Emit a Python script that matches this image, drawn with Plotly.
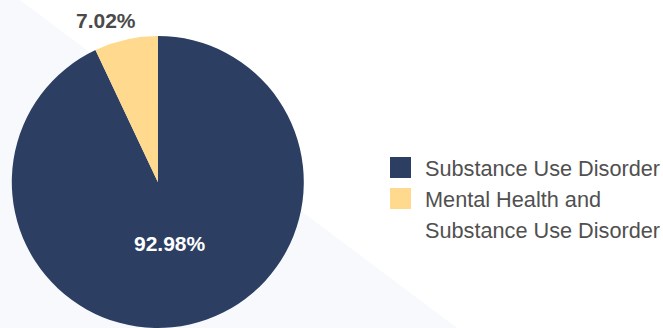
import plotly.graph_objects as go

# Share of clients by diagnosis group
categories = ["Substance Use Disorder", "Mental Health and<br>Substance Use Disorder"]
shares = [92.98, 7.02]
colors = ["#2c3f63", "#fed98e"]
label_colors = ["white", "#4a4a4a"]

W, H = 663, 328
FONT = "Liberation Sans, Arial, Helvetica, sans-serif"


def px(x):
    return x / W


def py(y):
    return 1 - y / H


CX, R = 157.8, 146.5

fig = go.Figure(
    go.Pie(
        labels=categories,
        values=shares,
        sort=False,
        direction="clockwise",
        rotation=0,
        marker=dict(colors=colors, line=dict(width=0)),
        textinfo="none",
        showlegend=False,
        hoverinfo="label+percent",
        domain=dict(x=[px(CX - R), px(CX + R)], y=[0, py(36)]),
    )
)

# Pale diagonal backdrop behind the pie
shapes = [
    dict(
        type="path",
        xref="paper",
        yref="paper",
        path=f"M 0,1 L {px(20)},1 L {px(457)},0 L 0,0 Z",
        fillcolor="#f8f9fc",
        line=dict(width=0),
        layer="below",
    )
]

annotations = []

# Percentage labels: large slice inside, thin slice above the rim
label_pos = [(170, 243), (105.5, 20)]
for val, (lx, ly), col in zip(shares, label_pos, label_colors):
    annotations.append(
        dict(
            xref="paper",
            yref="paper",
            x=px(lx),
            y=py(ly),
            xanchor="center",
            yanchor="middle",
            text=f"{val:.2f}%",
            showarrow=False,
            font=dict(family=FONT, size=21, color=col, weight="bold"),
        )
    )

# Legend drawn by hand: colour swatch plus one annotation per text line
swatch_top = [157, 188]
line_y = [168.5, 199.5, 230.5]
line_idx = 0
for i, (name, col) in enumerate(zip(categories, colors)):
    shapes.append(
        dict(
            type="rect",
            xref="paper",
            yref="paper",
            x0=px(390),
            x1=px(411),
            y0=py(swatch_top[i] + 21),
            y1=py(swatch_top[i]),
            fillcolor=col,
            line=dict(width=0),
        )
    )
    for part in name.split("<br>"):
        annotations.append(
            dict(
                xref="paper",
                yref="paper",
                x=px(423),
                y=py(line_y[line_idx]),
                xanchor="left",
                yanchor="middle",
                text=part,
                showarrow=False,
                font=dict(family=FONT, size=21.7, color="#505050"),
            )
        )
        line_idx += 1

fig.update_layout(
    width=W,
    height=H,
    margin=dict(l=0, r=0, t=0, b=0),
    paper_bgcolor="white",
    plot_bgcolor="white",
    shapes=shapes,
    annotations=annotations,
)

fig.write_html("out.html")
